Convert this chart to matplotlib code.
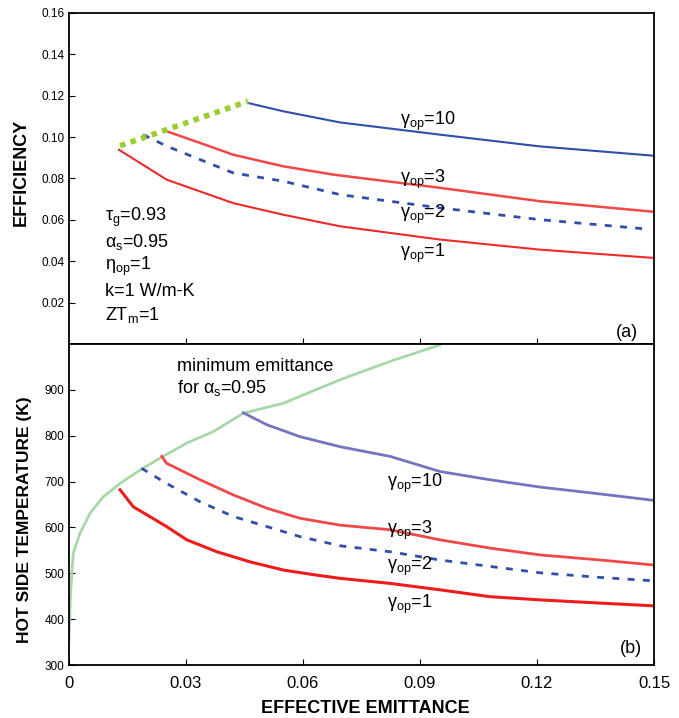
import matplotlib
matplotlib.use("Agg")
from matplotlib import pyplot as plt

# ---- panel (a): efficiency vs effective emittance ----
eff_min_x = [0.0131, 0.0459]
eff_min_y = [0.0958, 0.1173]

eff10_x = [0.0459, 0.0549, 0.0695, 0.0951, 0.1208, 0.15]
eff10_y = [0.1165, 0.1125, 0.1071, 0.1012, 0.0955, 0.0910]

eff3_x = [0.0246, 0.0336, 0.0421, 0.0549, 0.0677, 0.0951, 0.1208, 0.15]
eff3_y = [0.1031, 0.0972, 0.0915, 0.0859, 0.0819, 0.0755, 0.0690, 0.0639]

eff2_x = [0.0190, 0.0251, 0.0421, 0.0549, 0.0695, 0.0951, 0.1208, 0.148]
eff2_y = [0.1012, 0.0956, 0.0827, 0.0787, 0.0722, 0.0658, 0.0601, 0.0556]

eff1_x = [0.0128, 0.0251, 0.0421, 0.0549, 0.0695, 0.0951, 0.1208, 0.15]
eff1_y = [0.0939, 0.0794, 0.0681, 0.0625, 0.0569, 0.0505, 0.0456, 0.0416]

# ---- panel (b): hot side temperature vs effective emittance ----
tmin_x = [0.0, 0.0004, 0.0011, 0.0028, 0.0054, 0.0088, 0.0131, 0.0182, 0.0233,
          0.0302, 0.0370, 0.0447, 0.0550, 0.0695, 0.0823, 0.0951]
tmin_y = [354, 456, 544, 587, 631, 667, 696, 725, 751, 784, 809, 849, 871, 922, 962, 998]

t10_x = [0.0447, 0.0507, 0.0592, 0.0695, 0.0823, 0.0951, 0.1079, 0.1208, 0.1362, 0.15]
t10_y = [850, 824, 798, 776, 755, 722, 704, 688, 673, 659]

t3_x = [0.0238, 0.0250, 0.0336, 0.0421, 0.0507, 0.0592, 0.0695, 0.0823, 0.0951,
        0.1079, 0.1208, 0.1362, 0.15]
t3_y = [755, 740, 704, 671, 642, 620, 605, 595, 573, 555, 540, 529, 518]

t2_x = [0.0186, 0.0250, 0.0336, 0.0421, 0.0507, 0.0592, 0.0695, 0.0823, 0.0951,
        0.1079, 0.1208, 0.1362, 0.1491]
t2_y = [729, 696, 656, 624, 602, 580, 560, 547, 529, 515, 501, 491, 484]

t1_x = [0.0131, 0.0165, 0.0250, 0.0302, 0.0379, 0.0464, 0.0550, 0.0635, 0.0695,
        0.0823, 0.0951, 0.1079, 0.1208, 0.1362, 0.15]
t1_y = [682, 645, 602, 573, 547, 525, 507, 496, 489, 478, 464, 449, 442, 435, 429]

xticks = [0, 0.03, 0.06, 0.09, 0.12, 0.15]
xticklabels = ["0", "0.03", "0.06", "0.09", "0.12", "0.15"]
eff_ticks = [0.02, 0.04, 0.06, 0.08, 0.10, 0.12, 0.14, 0.16]
temp_ticks = [300, 400, 500, 600, 700, 800, 900]

plt.rcParams['font.family'] = ['Liberation Sans', 'DejaVu Sans']
plt.rcParams['mathtext.fontset'] = 'custom'
plt.rcParams['mathtext.rm'] = 'Liberation Sans'
plt.rcParams['mathtext.it'] = 'Liberation Sans'

fig = plt.figure(figsize=(6.79, 7.18), dpi=100)
ax1 = fig.add_axes([0.1016, 0.5209, 0.8616, 0.4610])
ax2 = fig.add_axes([0.1016, 0.0738, 0.8616, 0.4471])

red = '#ee2a2a'
blue = '#2f4fa8'

ax1.plot(eff10_x, eff10_y, color=blue, lw=1.5)
ax1.plot(eff3_x, eff3_y, color='#f04848', lw=1.8)
ax1.plot(eff2_x, eff2_y, color=blue, lw=2, ls=(0, (2.5, 3)))
ax1.plot(eff1_x, eff1_y, color=red, lw=1.5)
ax1.plot(eff_min_x, eff_min_y, color='#9acd32', lw=4, ls=(0, (1, 1)))

lab_kw = dict(fontsize=13, ha='left', va='center')
ax1.text(0.0849, 0.1075, r'$\gamma_{\rm op}$=10', **lab_kw)
ax1.text(0.0849, 0.0795, r'$\gamma_{\rm op}$=3', **lab_kw)
ax1.text(0.0849, 0.0626, r'$\gamma_{\rm op}$=2', **lab_kw)
ax1.text(0.0849, 0.0437, r'$\gamma_{\rm op}$=1', **lab_kw)

params = [r'$\tau_{\rm g}$=0.93', r'$\alpha_{\rm s}$=0.95', r'$\eta_{\rm op}$=1',
          'k=1 W/m-K', r'ZT$_{\rm m}$=1']
for i, s in enumerate(params):
    ax1.text(0.0093, 0.0610 - i * 0.0118, s, fontsize=13, ha='left', va='center')
ax1.text(0.146, 0.0055, '(a)', fontsize=13, ha='right', va='center')

ax1.set_xlim(0, 0.15)
ax1.set_ylim(0, 0.16)
ax1.set_xticks(xticks[1:-1])
ax1.set_xticklabels([])
ax1.set_yticks(eff_ticks)
ax1.set_yticklabels(['%.2f' % v for v in eff_ticks])
ax1.tick_params(direction='in', labelsize=8.5, length=4)
ax1.set_ylabel('EFFICIENCY', fontsize=13, fontweight='bold')
ax1.yaxis.set_label_coords(-0.067, 0.517)

ax2.plot(tmin_x, tmin_y, color='#a8d8a8', lw=2)
ax2.plot(t10_x, t10_y, color='#7474c0', lw=2)
ax2.plot(t3_x, t3_y, color='#f04848', lw=2)
ax2.plot(t2_x, t2_y, color=blue, lw=2, ls=(0, (2.5, 3)))
ax2.plot(t1_x, t1_y, color='#ee1c1c', lw=2.2)

ax2.text(0.0815, 697, r'$\gamma_{\rm op}$=10', **lab_kw)
ax2.text(0.0815, 594, r'$\gamma_{\rm op}$=3', **lab_kw)
ax2.text(0.0815, 516, r'$\gamma_{\rm op}$=2', **lab_kw)
ax2.text(0.0815, 433, r'$\gamma_{\rm op}$=1', **lab_kw)
ax2.text(0.0277, 952, 'minimum emittance', fontsize=13, ha='left', va='center')
ax2.text(0.0277, 903, r'for $\alpha_{\rm s}$=0.95', fontsize=13, ha='left', va='center')
ax2.text(0.147, 335, '(b)', fontsize=13, ha='right', va='center')

ax2.set_xlim(0, 0.15)
ax2.set_ylim(300, 1000)
ax2.set_xticks(xticks)
ax2.set_xticklabels(xticklabels, fontsize=12)
ax2.set_yticks(temp_ticks)
ax2.tick_params(axis='y', direction='in', labelsize=8.5, length=4)
ax2.tick_params(axis='x', direction='in', length=4, pad=8)
ax2.set_ylabel('HOT SIDE TEMPERATURE (K)', fontsize=12.5, fontweight='bold')
ax2.yaxis.set_label_coords(-0.063, 0.452)
ax2.set_xlabel('EFFECTIVE EMITTANCE', fontsize=13, fontweight='bold')
ax2.xaxis.set_label_coords(0.507, -0.108)

for ax in (ax1, ax2):
    for sp in ax.spines.values():
        sp.set_linewidth(1.3)

fig.savefig('out.png', dpi=100)
